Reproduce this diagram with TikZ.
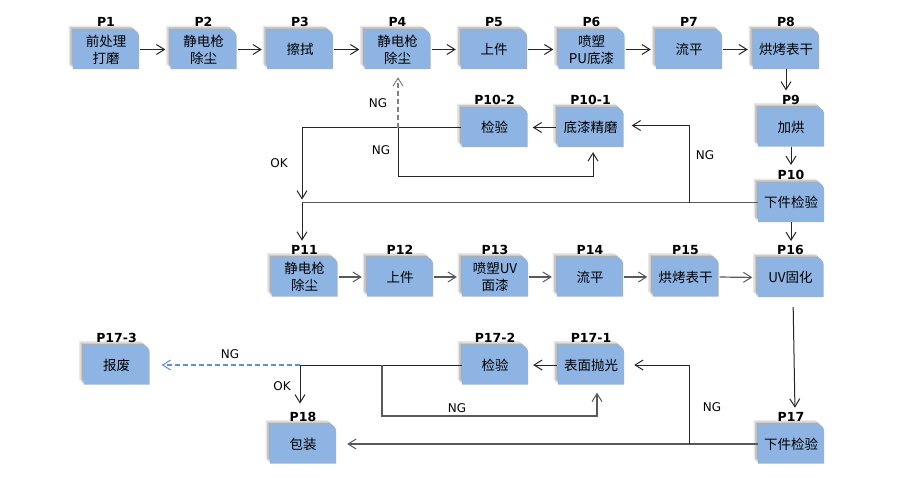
\documentclass[tikz,border=0pt]{standalone}
\usepackage{fontspec}
\newfontfamily\cjk{Noto Sans CJK SC}
\newfontfamily\dv{DejaVu Sans}
\usetikzlibrary{arrows.meta,calc}
\definecolor{boxblue}{HTML}{8EB4E3}
\definecolor{dashblue}{HTML}{5E8FD6}
\tikzset{
 pbox/.style={minimum width=66pt,minimum height=39pt,inner sep=0pt,align=center,font=\cjk\fontsize{13.5}{17}\selectfont},
 plab/.style={anchor=base,inner sep=0pt,font=\dv\bfseries\fontsize{12.5}{14}\selectfont},
 ngl/.style={inner sep=0pt,font=\dv\fontsize{12}{14}\selectfont},
 conn/.style={draw=black!85,line width=1pt},
 gconn/.style={draw=black!65,line width=1.2pt},
 tip/.style={-{Straight Barb[length=8pt,width=10pt,line width=1pt]}},
 arr/.style={conn,tip},
 garr/.style={gconn,tip},
 dsh/.style={dash pattern=on 5pt off 3pt},
}
\newcommand\bshape[3]{\fill[#1] ({#2-33},{#3+19.5}) -- ({#2-33},{#3-19.5}) -- ({#2+27},{#3-19.5}) .. controls ({#2+30.3},{#3-19.5}) and ({#2+33},{#3-16.2}) .. ({#2+33},{#3-13.5}) -- ({#2+33},{#3+19.5}) -- cycle;}
\newcommand\pstep[5]{%
 \bshape{black,opacity=.09}{#2-4.5}{#3-4.5}
 \bshape{black,opacity=.12}{#2-3}{#3-3}
 \bshape{black,opacity=.14}{#2-1.5}{#3-1.5}
 \bshape{boxblue}{#2}{#3}
 \node[pbox] (#1) at (#2,#3) {#5};
 \node[plab] (#1l) at (#2,{#3-23}) {#4};
}
\begin{document}
\begin{tikzpicture}[x=1pt,y=-1pt]
\fill[white] (0,0) rectangle (900,479);
\useasboundingbox (0,0) rectangle (900,479);
% row 1
\pstep{p1}{106}{49.5}{P1}{前处理\\打磨}
\pstep{p2}{203.5}{49.5}{P2}{静电枪\\除尘}
\pstep{p3}{300}{49.5}{P3}{擦拭}
\pstep{p4}{397.5}{49.5}{P4}{静电枪\\除尘}
\pstep{p5}{494}{49.5}{P5}{上件}
\pstep{p6}{591.5}{49.5}{P6}{喷塑\\PU底漆}
\pstep{p7}{689}{49.5}{P7}{流平}
\pstep{p8}{786}{49.5}{P8}{烘烤表干}
% right column
\pstep{p9}{791}{127}{P9}{加烘}
\pstep{p10}{791}{202.5}{P10}{下件检验}
\pstep{p102}{494.5}{127.5}{P10-2}{检验}
\pstep{p101}{590.5}{127.5}{P10-1}{底漆精磨}
% row 3
\pstep{p11}{304.5}{277}{P11}{静电枪\\除尘}
\pstep{p12}{400}{277}{P12}{上件}
\pstep{p13}{495}{277}{P13}{喷塑UV\\面漆}
\pstep{p14}{590}{277}{P14}{流平}
\pstep{p15}{685.5}{277}{P15}{烘烤表干}
\pstep{p16}{790.5}{277.5}{P16}{UV固化}
% row 4
\pstep{p173}{116.5}{365}{P17-3}{报废}
\pstep{p172}{495}{365}{P17-2}{检验}
\pstep{p171}{591}{365}{P17-1}{表面抛光}
\pstep{p18}{303}{444}{P18}{包装}
\pstep{p17}{791}{444}{P17}{下件检验}

% row 1 arrows
\foreach \a/\b in {p1/p2,p2/p3,p3/p4,p4/p5,p5/p6,p6/p7,p7/p8}
  \draw[arr,shorten <=1pt,shorten >=5pt] (\a.east) -- (\b.west);
% verticals
\draw[arr] (p8.south) -- ([yshift=4pt]p8.south |- p9l.north);
\draw[arr] (p9.south) -- ([yshift=5pt]p9.south |- p10l.north);
\draw[arr] (p10.south) -- ([yshift=4pt]p10.south |- p16l.north);
% P10 loop
\coordinate (j1) at (689,202.5);
\coordinate (j2) at (302,202.5);
\coordinate (k1) at (398,127.5);
\coordinate (k2) at (398,176);
\draw[gconn] (p10.west) -- (j2);
\draw[arr,shorten >=8pt] (j1) |- ([yshift=2pt]p101.east);
\draw[arr,shorten <=1pt,shorten >=5pt] (p101.west) -- (p102.east);
\draw[conn] (p102.west) -- (k1);
\draw[arr,shorten >=3pt] (k1) -| (j2);
\draw[arr,shorten >=4pt] (j2) -- (j2 |- p11l.north);
\draw[arr,shorten >=5pt] (k1) -- (k2) -| ([xshift=2.5pt]p101.south);
\draw[draw=black!50,line width=1.1pt,dsh,tip,shorten >=8pt] (k1) -- (k1 |- p4.south);
\node[ngl] (ng1) at (378,103) {NG};
\node[ngl] (ng2) at (381,150) {NG};
\node[ngl] (ok1) at (279,163) {OK};
\node[ngl] (ng3) at (705,155) {NG};
% row 3 arrows
\foreach \a/\b in {p11/p12,p12/p13,p13/p14,p14/p15,p15/p16}
  \draw[garr,shorten <=1pt,shorten >=5pt] (\a.east) -- (\b.west);
\draw[arr,shorten <=10pt,shorten >=4pt] ([xshift=2.5pt]p16.south) -- ([xshift=4pt]p17l.north);
% P17 loop
\coordinate (j3) at (689,444);
\coordinate (j4) at (300,365);
\coordinate (k3) at (382,365);
\coordinate (k4) at (382,416);
\draw[gconn,tip,shorten >=11pt] (p17.west) -- (p18.east);
\draw[arr,shorten >=10pt] (j3) |- (p171.east);
\draw[arr,shorten <=1pt,shorten >=5pt] (p171.west) -- (p172.east);
\draw[conn] (p172.west) -- (j4);
\draw[draw=dashblue,line width=1.1pt,dsh,tip,shorten >=12pt] (j4) -- (p173.east);
\draw[arr,shorten >=8pt] (j4) -- (j4 |- p18l.north);
\draw[gconn,tip,shorten >=8pt] (k3) -- (k4) -| ([xshift=6pt]p171.south);
\node[ngl] (ng4) at (230,354) {NG};
\node[ngl] (ok2) at (282,386) {OK};
\node[ngl] (ng5) at (457,408) {NG};
\node[ngl] (ng6) at (712,407) {NG};
\end{tikzpicture}
\end{document}
